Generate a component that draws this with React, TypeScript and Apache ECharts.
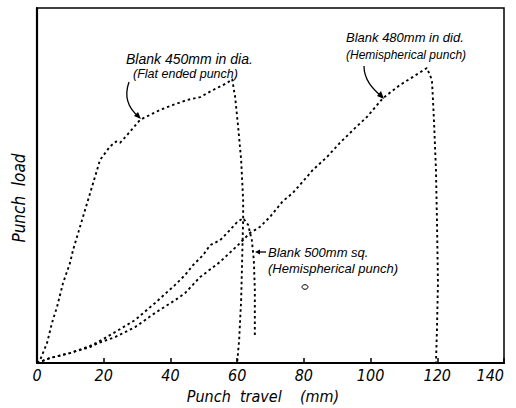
import React, { useEffect, useRef } from "react";
import * as echarts from "echarts";

// Punch travel (mm) / punch load (relative units, 0-100)
const flat450Travel = [0, 0.9, 3.0, 4.5, 6.0, 7.8, 9.9, 10.8, 15.3, 18.9, 21.9, 23.7, 24.9, 27.0, 30.9, 36.9, 40.8, 45.0, 48.9, 52.8, 57.0, 58.5, 59.4, 60.3, 61.2, 61.8, 61.8, 61.5, 61.2, 60.6, 60.0];
const flat450Load = [0, 0.8, 5.6, 11.3, 15.8, 22.5, 28.2, 31.8, 45.9, 57.2, 61.0, 62.4, 62.0, 64.2, 68.5, 71.3, 72.7, 74.1, 74.9, 76.9, 78.9, 80.0, 74.9, 66.5, 57.2, 45.9, 40.8, 29.0, 17.7, 6.5, 0];

const sq500Travel = [0, 3.9, 9.9, 15.9, 18.3, 23.4, 29.4, 35.4, 41.4, 44.4, 46.8, 49.8, 51.9, 54.9, 57.0, 60.0, 61.8, 63.3, 64.4, 65.0, 65.3, 65.3];
const sq500Load = [0, 1.4, 2.8, 4.8, 5.9, 8.7, 12.1, 16.9, 22.0, 24.8, 27.6, 30.4, 33.2, 34.6, 36.6, 39.7, 40.8, 38.9, 34.6, 29.0, 20.6, 7.3];

const dia480Travel = [0, 3.9, 9.9, 15.9, 18.3, 23.4, 29.4, 35.4, 41.4, 44.4, 48.9, 54.9, 60.9, 63.8, 66.8, 69.8, 73.7, 76.7, 80.9, 82.7, 86.9, 90.8, 94.7, 98.9, 103.7, 108.8, 112.7, 116.9, 118.4, 119.0, 119.6, 119.9, 120.2, 119.9, 119.6];
const dia480Load = [0, 1.4, 2.8, 4.5, 5.6, 7.3, 10.1, 14.1, 17.7, 19.7, 24.2, 28.5, 33.8, 36.6, 38.3, 41.1, 45.6, 47.9, 52.4, 54.4, 58.0, 62.0, 65.6, 69.3, 74.6, 78.3, 80.6, 83.1, 79.7, 68.5, 54.4, 40.3, 22.5, 9.3, 0];

const xTicks = [0, 20, 40, 60, 80, 100, 120, 140];

const zip = (xs: number[], ys: number[]) => xs.map((x, i) => [x, ys[i]]);

const ITAL = "'Liberation Sans Narrow', 'DejaVu Sans Condensed', sans-serif";
const LBL = "'Liberation Sans', 'DejaVu Sans', sans-serif";

export default function App() {
  const ref = useRef<HTMLDivElement>(null);
  useEffect(() => {
    if (!ref.current) return;
    const chart = echarts.init(ref.current, undefined, { renderer: "svg" });
    const dotted = {
      color: "#000",
      width: 1.9,
      type: [2.5, 3] as any,
    };
    const mkSeries = (name: string, xs: number[], ys: number[]) => ({
      name,
      type: "line",
      data: zip(xs, ys),
      showSymbol: false,
      symbol: "none",
      smooth: false,
      lineStyle: dotted,
      silent: true,
    });
    const txt = (text: string, x: number, y: number, size: number) => ({
      type: "text",
      x,
      y,
      style: {
        text,
        fill: "#000",
        font: `italic ${size}px ${LBL}`,
        textAlign: "left",
        textVerticalAlign: "middle",
      },
    });
    chart.setOption({
      animation: false,
      backgroundColor: "#fff",
      grid: {
        left: 37,
        right: 12,
        top: 8,
        bottom: 45,
        show: true,
        borderColor: "#000",
        borderWidth: 1.5,
      },
      xAxis: {
        type: "value",
        min: 0,
        max: 140,
        interval: 20,
        axisLine: { show: true, lineStyle: { color: "#000", width: 2.2 } },
        axisTick: { show: true, inside: true, length: 5, lineStyle: { color: "#000", width: 1.5 } },
        splitLine: { show: false },
        axisLabel: {
          color: "#000",
          fontSize: 16,
          fontStyle: "italic",
          fontFamily: ITAL,
          margin: 4,
          alignMaxLabel: "right",
          formatter: (v: number) => (xTicks.includes(v) ? String(v) : ""),
        },
      },
      yAxis: {
        type: "value",
        min: 0,
        max: 100,
        axisLine: { show: true, lineStyle: { color: "#000", width: 2.2 } },
        axisTick: { show: false },
        axisLabel: { show: false },
        splitLine: { show: false },
      },
      series: [
        mkSeries("Blank 450mm in dia. (Flat ended punch)", flat450Travel, flat450Load),
        mkSeries("Blank 500mm sq. (Hemispherical punch)", sq500Travel, sq500Load),
        mkSeries("Blank 480mm in dia. (Hemispherical punch)", dia480Travel, dia480Load),
      ],
      graphic: [
        txt("Blank 450mm in dia.", 126, 59, 14),
        txt("(Flat ended punch)", 133, 74, 12.5),
        txt("Blank 480mm in did.", 346, 37, 13),
        txt("(Hemispherical punch)", 346, 55, 12),
        txt("Blank 500mm sq.", 268, 252, 13),
        txt("(Hemispherical punch)", 268, 268, 13),
        {
          type: "ellipse",
          shape: { cx: 305, cy: 287, rx: 3, ry: 2.3 },
          style: { fill: "none", stroke: "#000", lineWidth: 1 },
        },
        {
          type: "bezierCurve",
          shape: { x1: 129, y1: 82, cpx1: 124, cpy1: 96, cpx2: 128, cpy2: 108, x2: 139, y2: 117 },
          style: { fill: "none", stroke: "#000", lineWidth: 1.3 },
        },
        {
          type: "polygon",
          shape: { points: [[141, 119], [134, 116], [138, 112]] },
          style: { fill: "#000" },
        },
        {
          type: "bezierCurve",
          shape: { x1: 364, y1: 66, cpx1: 364, cpy1: 80, cpx2: 373, cpy2: 89, x2: 381, y2: 96 },
          style: { fill: "none", stroke: "#000", lineWidth: 1.3 },
        },
        {
          type: "polygon",
          shape: { points: [[384, 99], [377, 96], [381, 91]] },
          style: { fill: "#000" },
        },
        {
          type: "line",
          shape: { x1: 258, y1: 252, x2: 266, y2: 252 },
          style: { stroke: "#000", lineWidth: 1.3 },
        },
        {
          type: "polygon",
          shape: { points: [[255, 252], [260, 249.5], [260, 254.5]] },
          style: { fill: "#000" },
        },
        {
          type: "text",
          x: 19,
          y: 198,
          rotation: Math.PI / 2,
          style: {
            text: "Punch  load",
            fill: "#000",
            font: `italic 17px ${ITAL}`,
            textAlign: "center",
            textVerticalAlign: "middle",
          },
        },
        {
          type: "text",
          x: 263,
          y: 396,
          style: {
            text: "Punch  travel    (mm)",
            fill: "#000",
            font: `italic 16px ${ITAL}`,
            textAlign: "center",
            textVerticalAlign: "middle",
          },
        },
      ],
    });
    return () => chart.dispose();
  }, []);
  return (
    <div
      ref={ref}
      style={{ position: "fixed", left: 0, top: 0, width: 516, height: 408 }}
    />
  );
}
